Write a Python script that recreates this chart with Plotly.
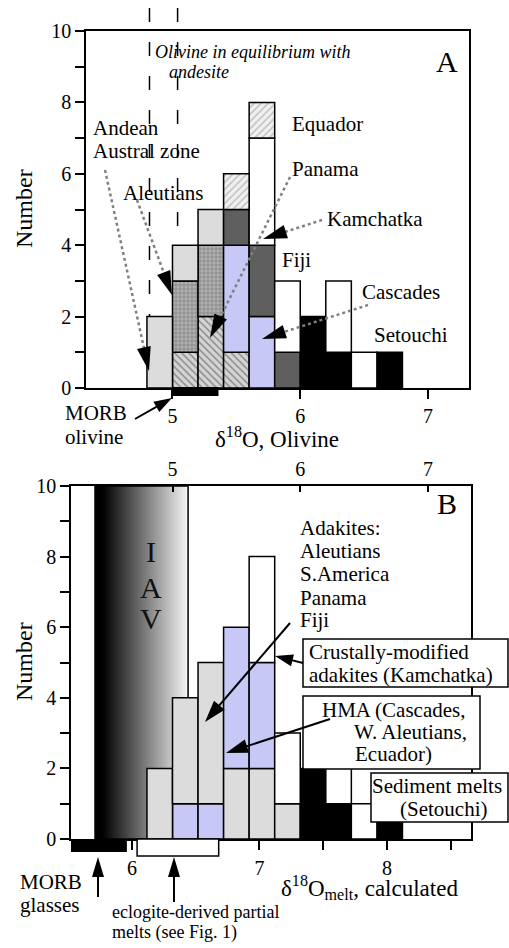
import math
import numpy as np
import plotly.graph_objects as go

W, H = 509, 948
SERIF = "Liberation Serif"

# ---------------- data ----------------
bin_centers = [4.9, 5.1, 5.3, 5.5, 5.7, 5.9, 6.1, 6.3, 6.5, 6.7]   # d18O olivine bins
bin_width = 0.2

# Panel A (stack order bottom -> top)
panama_A    = [0, 1, 2, 1, 0, 0, 0, 0, 0, 0]
aleutians_A = [0, 2, 2, 0, 0, 0, 0, 0, 0, 0]
andean_A    = [2, 1, 1, 0, 0, 0, 0, 0, 0, 0]
cascades_A  = [0, 0, 0, 3, 2, 0, 0, 0, 0, 0]
fiji_A      = [0, 0, 0, 1, 2, 1, 0, 0, 0, 0]
setouchi_A  = [0, 0, 0, 0, 0, 0, 2, 1, 0, 1]
kamchatka_A = [0, 0, 0, 0, 3, 2, 0, 2, 1, 0]
equador_A   = [0, 0, 0, 1, 1, 0, 0, 0, 0, 0]

# Panel B (stack order bottom -> top)
hma_low_B   = [0, 1, 1, 0, 0, 0, 0, 0, 0, 0]
adakite_B   = [2, 3, 4, 2, 2, 1, 0, 0, 0, 0]
hma_high_B  = [0, 0, 0, 4, 3, 0, 0, 0, 0, 0]
sediment_B  = [0, 0, 0, 0, 0, 0, 2, 1, 0, 1]
crustal_B   = [0, 0, 0, 0, 3, 2, 0, 2, 1, 0]

olivine_ticks = [5, 6, 7]
melt_ticks = [6, 6.5, 7, 7.5, 8, 8.5]
melt_ticktext = ["6", " ", "7", " ", "8", " "]
count_ticks = list(range(0, 11))
count_ticktext = [str(v) if v % 2 == 0 else " " for v in count_ticks]

andesite_olivine = [4.82, 5.04]     # olivine in equilibrium with andesite
morb_olivine = [5.0, 5.36]
morb_glasses_melt = [5.49, 5.96]
eclogite_melt = [6.04, 6.68]
iav_melt = [5.71, 6.44]

# ---------------- styles ----------------
LIGHT = "#dcdcdc"
LAV = "#c8c8f7"
DARK = "#5f5f5f"
OUT = dict(color="black", width=1.5)

st_panama = dict(color="#cccccc", line=OUT,
                 pattern=dict(shape="\\", fgcolor="#444444", bgcolor="#d4d4d4", size=5, solidity=0.3))
st_aleut = dict(color="#a0a0a0", line=OUT,
                pattern=dict(shape="+", fgcolor="#555555", bgcolor="#b0b0b0", size=4, solidity=0.35))
st_andean = dict(color=LIGHT, line=OUT)
st_lav = dict(color=LAV, line=OUT)
st_fiji = dict(color=DARK, line=OUT)
st_black = dict(color="black", line=OUT)
st_white = dict(color="white", line=OUT)
st_equador = dict(color="#eeeeee", line=OUT,
                  pattern=dict(shape="/", fgcolor="#909090", bgcolor="#f0f0f0", size=5, solidity=0.3))

fig = go.Figure()

# IAV gradient band (panel B, melt axis = base subplot, drawn first)
fig.add_trace(go.Scatter(
    x=[iav_melt[0], iav_melt[1], iav_melt[1], iav_melt[0], iav_melt[0]],
    y=[0, 0, 10, 10, 0], mode="lines", fill="toself",
    fillgradient=dict(type="horizontal",
                      colorscale=[[0, "#000000"], [0.08, "#000000"], [1, "#f6f6f6"]]),
    line=dict(color="black", width=1.5), xaxis="x2", yaxis="y2",
    showlegend=False, hoverinfo="skip"))


def stack(series, xa, ya):
    base = np.zeros(len(bin_centers))
    for vals, style in series:
        v = np.array(vals, float)
        fig.add_trace(go.Bar(
            x=bin_centers, y=[val if val > 0 else None for val in v],
            base=base.copy(), width=bin_width, marker=style,
            xaxis=xa, yaxis=ya, showlegend=False, hoverinfo="skip"))
        base = base + v


stack([(panama_A, st_panama), (aleutians_A, st_aleut), (andean_A, st_andean),
       (cascades_A, st_lav), (fiji_A, st_fiji), (setouchi_A, st_black),
       (kamchatka_A, st_white), (equador_A, st_equador)], "x", "y")
stack([(hma_low_B, st_lav), (adakite_B, st_andean), (hma_high_B, st_lav),
       (sediment_B, st_black), (crustal_B, st_white)], "x3", "y2")

# ---------------- helpers ----------------
def PX(x):
    return x / W


def PY(y):
    return 1 - y / H


annotations = []
shapes = []


def txt(s, x, y, size=21, xanchor="left", angle=0, color="black"):
    annotations.append(dict(text=s, x=PX(x), y=PY(y), xref="paper", yref="paper",
                            xanchor=xanchor, yanchor="middle", showarrow=False,
                            textangle=angle,
                            font=dict(family=SERIF, size=size, color=color)))


def arrow(tail, tip, dotted=False, hl=22, hw=7):
    tx, ty = tail
    hx, hy = tip
    dx, dy = hx - tx, hy - ty
    L = math.hypot(dx, dy)
    ux, uy = dx / L, dy / L
    bx, by = hx - ux * hl, hy - uy * hl
    nx, ny = -uy, ux
    ex, ey = bx + ux * 3, by + uy * 3
    if dotted:
        ln = dict(color="#808080", width=2.5, dash="dot")
    else:
        ln = dict(color="black", width=2)
    shapes.append(dict(type="line", xref="paper", yref="paper",
                       x0=PX(tx), y0=PY(ty), x1=PX(ex), y1=PY(ey), line=ln))
    p = "M {} {} L {} {} L {} {} Z".format(
        PX(hx), PY(hy), PX(bx + nx * hw), PY(by + ny * hw), PX(bx - nx * hw), PY(by - ny * hw))
    shapes.append(dict(type="path", xref="paper", yref="paper", path=p,
                       fillcolor="black", line=dict(width=0)))


# ---------------- panel A decorations ----------------
for xv in andesite_olivine:
    shapes.append(dict(type="line", xref="x", yref="paper", x0=xv, x1=xv,
                       y0=PY(8), y1=PY(388), layer="below",
                       line=dict(color="black", width=1.5, dash="14px,20px")))
shapes.append(dict(type="rect", xref="x", yref="paper", x0=morb_olivine[0], x1=morb_olivine[1],
                   y0=PY(387), y1=PY(396), fillcolor="black", line=dict(width=0)))

txt("<i>Olivine in equilibrium with</i>", 153, 52, size=18)
txt("<i>andesite</i>", 167, 72, size=18)
txt("A", 447, 62, size=30, xanchor="center")
txt("Andean", 91, 128)
txt("Austral zone", 91, 151)
txt("Aleutians", 121, 193)
txt("Equador", 290, 124)
txt("Panama", 290, 169)
txt("Kamchatka", 325, 219)
txt("Fiji", 280, 260)
txt("Cascades", 360, 292)
txt("Setouchi", 372, 335)
txt("MORB", 63, 413)
txt("olivine", 63, 437)
txt("Number", 24, 209, size=24, xanchor="center", angle=-90)
txt("δ<sup>18</sup>O, Olivine", 277, 437, size=23, xanchor="center")

arrow((105, 170), (149, 371), dotted=True, hl=24)
arrow((137, 200), (172, 295), dotted=True, hl=24)
arrow((290, 177), (210, 338), dotted=True, hl=24)
arrow((322, 220), (263, 239), dotted=True, hl=24)
arrow((368, 305), (262, 339), dotted=True, hl=24)
arrow((135, 419), (172, 398), hl=18, hw=6)

# ---------------- panel B decorations ----------------
shapes.append(dict(type="rect", xref="x2", yref="paper", x0=morb_glasses_melt[0], x1=morb_glasses_melt[1],
                   y0=PY(839), y1=PY(852), fillcolor="black", line=dict(width=0)))
shapes.append(dict(type="rect", xref="x2", yref="paper", x0=eclogite_melt[0], x1=eclogite_melt[1],
                   y0=PY(839), y1=PY(856), fillcolor="white", line=dict(color="black", width=1.5)))

for (x0, y0, x1, y1) in [(303, 639, 508, 687), (303, 696, 480, 769), (371, 773, 508, 822)]:
    shapes.append(dict(type="rect", xref="paper", yref="paper", x0=PX(x0), x1=PX(x1),
                       y0=PY(y0), y1=PY(y1), fillcolor="white",
                       line=dict(color="black", width=1.5)))

txt("I", 151, 551, size=30, xanchor="center", color="#111111")
txt("A", 151, 587, size=30, xanchor="center", color="#111111")
txt("V", 151, 618, size=30, xanchor="center", color="#111111")
txt("B", 447, 503, size=30, xanchor="center")
for s, yy in [("Adakites:", 528), ("Aleutians", 551), ("S.America", 574), ("Panama", 598), ("Fiji", 620)]:
    txt(s, 298, yy)
txt("Crustally-modified", 307, 652)
txt("adakites (Kamchatka)", 307, 675)
txt("HMA (Cascades,", 320, 710)
txt("W. Aleutians,", 352, 732)
txt("Ecuador)", 353, 754)
txt("Sediment melts", 437, 786, xanchor="center")
txt("(Setouchi)", 443, 809, xanchor="center")
txt("MORB", 18, 882)
txt("glasses", 18, 905)
txt("eclogite-derived partial", 110, 912, size=18)
txt("melts (see Fig. 1)", 110, 932, size=18)
txt("Number", 24, 662, size=24, xanchor="center", angle=-90)
txt("δ<sup>18</sup>O<sub>melt</sub>, calculated", 279, 887, size=23)

arrow((290, 623), (205, 722), hl=22, hw=7)
arrow((330, 719), (226, 753), hl=22, hw=7)
arrow((303, 663), (275, 656), hl=18, hw=6)
arrow((98, 897), (98, 857), hl=20, hw=6)
arrow((174, 902), (174, 857), hl=20, hw=6)

# ---------------- axes ----------------
tickfont = dict(family=SERIF, size=20, color="black")
common = dict(showline=True, linecolor="black", linewidth=1.5, tickcolor="black", tickwidth=1.5,
              showgrid=False, zeroline=False, tickfont=tickfont, automargin=False)

fig.update_layout(
    width=W, height=H,
    margin=dict(l=0, r=0, t=0, b=0, autoexpand=False),
    paper_bgcolor="white", plot_bgcolor="rgba(0,0,0,0)",
    barmode="overlay", showlegend=False,
    xaxis=dict(domain=[86 / W, 469 / W], range=[4.323, 7.321], tickvals=olivine_ticks,
               ticks="outside", ticklen=9, mirror=True, anchor="y", **common),
    yaxis=dict(domain=[1 - 388 / H, 1 - 31 / H], range=[0, 10], tickvals=count_ticks,
               ticktext=count_ticktext, ticks="outside", ticklen=9, mirror=True, anchor="x", **common),
    xaxis2=dict(domain=[71 / W, 471 / W], range=[5.5216, 8.659], tickvals=melt_ticks,
                ticktext=melt_ticktext, ticks="outside", ticklen=9, anchor="y2",
                ticklabelstandoff=1, **common),
    xaxis3=dict(range=[4.2055, 7.3366], tickvals=olivine_ticks, ticks="inside", ticklen=6,
                side="top", overlaying="x2", anchor="y2", **common),
    yaxis2=dict(domain=[1 - 839 / H, 1 - 486 / H], range=[0, 10], tickvals=count_ticks,
                ticktext=count_ticktext, ticks="outside", ticklen=9, mirror=True, anchor="x2", **common),
    annotations=annotations,
    shapes=shapes,
)

fig.write_html("out.html", config={"displayModeBar": False},
               post_script="document.body.style.margin='0';")
